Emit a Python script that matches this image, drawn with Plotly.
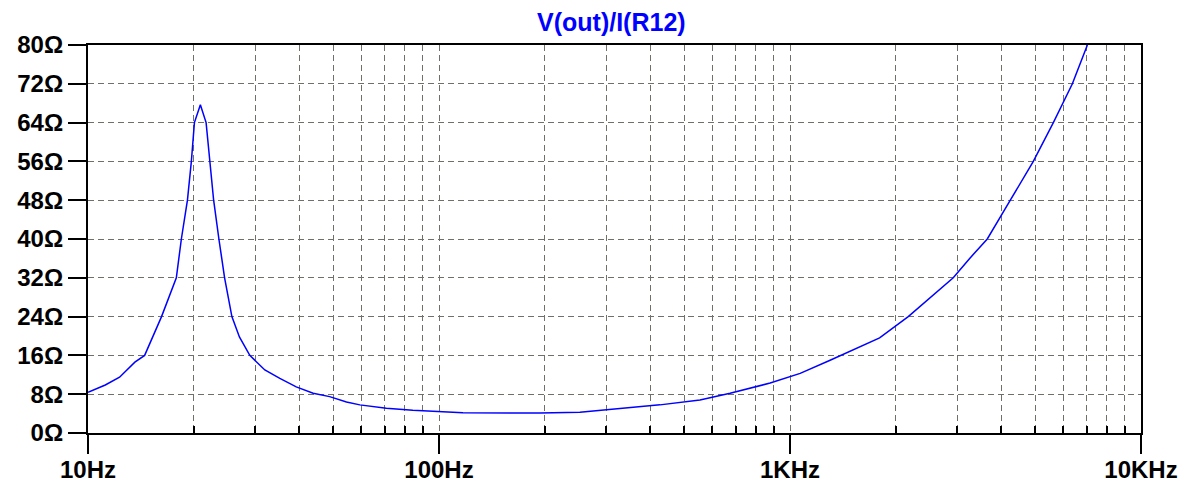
import plotly.graph_objects as go

# frequency (Hz) and impedance (ohm)
freq_hz = [
    10, 11.2, 12.3, 13.6, 14.5, 16.2, 17.85, 18.45, 19.2, 19.7,
    20.1, 20.9, 21.7, 22.2, 22.8, 23.6, 24.5, 25.7, 27.0, 28.9,
    31.9, 35.2, 39.2, 43.8, 48.8, 54.5, 59.5, 70.8, 84.2, 117,
    149, 194, 252, 328, 426, 554, 675, 878, 1069, 1301,
    1800, 2172, 2520, 2918, 3250, 3648, 4243, 4934, 5627,
    6375, 7035,
]
impedance_ohm = [
    8.4, 9.9, 11.5, 14.6, 16.0, 24.0, 32.0, 40.0, 48.0, 56.0,
    64.0, 67.7, 64.0, 56.0, 48.0, 40.0, 32.0, 24.0, 19.8, 16.0,
    13.0, 11.25, 9.5, 8.2, 7.5, 6.4, 5.8, 5.1, 4.7, 4.2,
    4.1, 4.1, 4.3, 5.1, 5.8, 6.8, 8.2, 10.3, 12.3, 15.0,
    19.6, 24.0, 28.0, 32.0, 36.0, 40.0, 48.0, 56.0, 64.0,
    72.0, 80.0,
]

decades = [10, 100, 1000, 10000]
decade_labels = ["10Hz", "100Hz", "1KHz", "10KHz"]
minor_vals = [m * d for d in [10, 100, 1000] for m in range(2, 10)]

grid_color = "#707068"
font = dict(family="Liberation Sans", size=24, color="black")

fig = go.Figure()

fig.add_trace(
    go.Scatter(
        x=freq_hz,
        y=impedance_ohm,
        mode="lines",
        line=dict(color="#0000ff", width=1.5),
        showlegend=False,
    )
)

fig.update_xaxes(
    type="log",
    range=[1, 4],
    automargin=False,
    tickmode="array",
    tickvals=decades,
    ticktext=["<b>%s</b>" % t for t in decade_labels],
    ticks="outside",
    ticklen=19,
    tickwidth=2,
    tickcolor="black",
    ticklabelstandoff=-5,
    showline=True,
    linecolor="black",
    linewidth=2,
    mirror=True,
    showgrid=True,
    gridcolor=grid_color,
    gridwidth=1,
    griddash="6px,4px",
    zeroline=False,
    tickfont=font,
    minor=dict(
        tickmode="array",
        tickvals=minor_vals,
        ticks="inside",
        ticklen=7,
        tickwidth=2,
        tickcolor="black",
        showgrid=True,
        gridcolor=grid_color,
        gridwidth=1,
        griddash="6px,4px",
    ),
)

fig.update_yaxes(
    range=[0, 80],
    automargin=False,
    tickmode="linear",
    tick0=0,
    dtick=8,
    tickprefix="<b>",
    ticksuffix="Ω</b>",
    ticks="outside",
    ticklen=18,
    tickwidth=2,
    tickcolor="black",
    showline=True,
    linecolor="black",
    linewidth=2,
    mirror=True,
    showgrid=True,
    gridcolor=grid_color,
    gridwidth=1,
    griddash="6px,4px",
    zeroline=False,
    tickfont=font,
)

# page body has an 8px margin, so pull the plot area back by that much
fig.update_layout(
    width=1190,
    height=484,
    margin=dict(l=80, r=57, t=37, b=59),
    paper_bgcolor="white",
    plot_bgcolor="white",
    title=dict(
        text="<b>V(out)/I(R12)</b>",
        x=0.507,
        xanchor="center",
        xref="container",
        y=0.971,
        yanchor="middle",
        yref="container",
        font=dict(family="Liberation Sans", size=25, color="#0000ff"),
    ),
)

fig.write_html("out.html")
